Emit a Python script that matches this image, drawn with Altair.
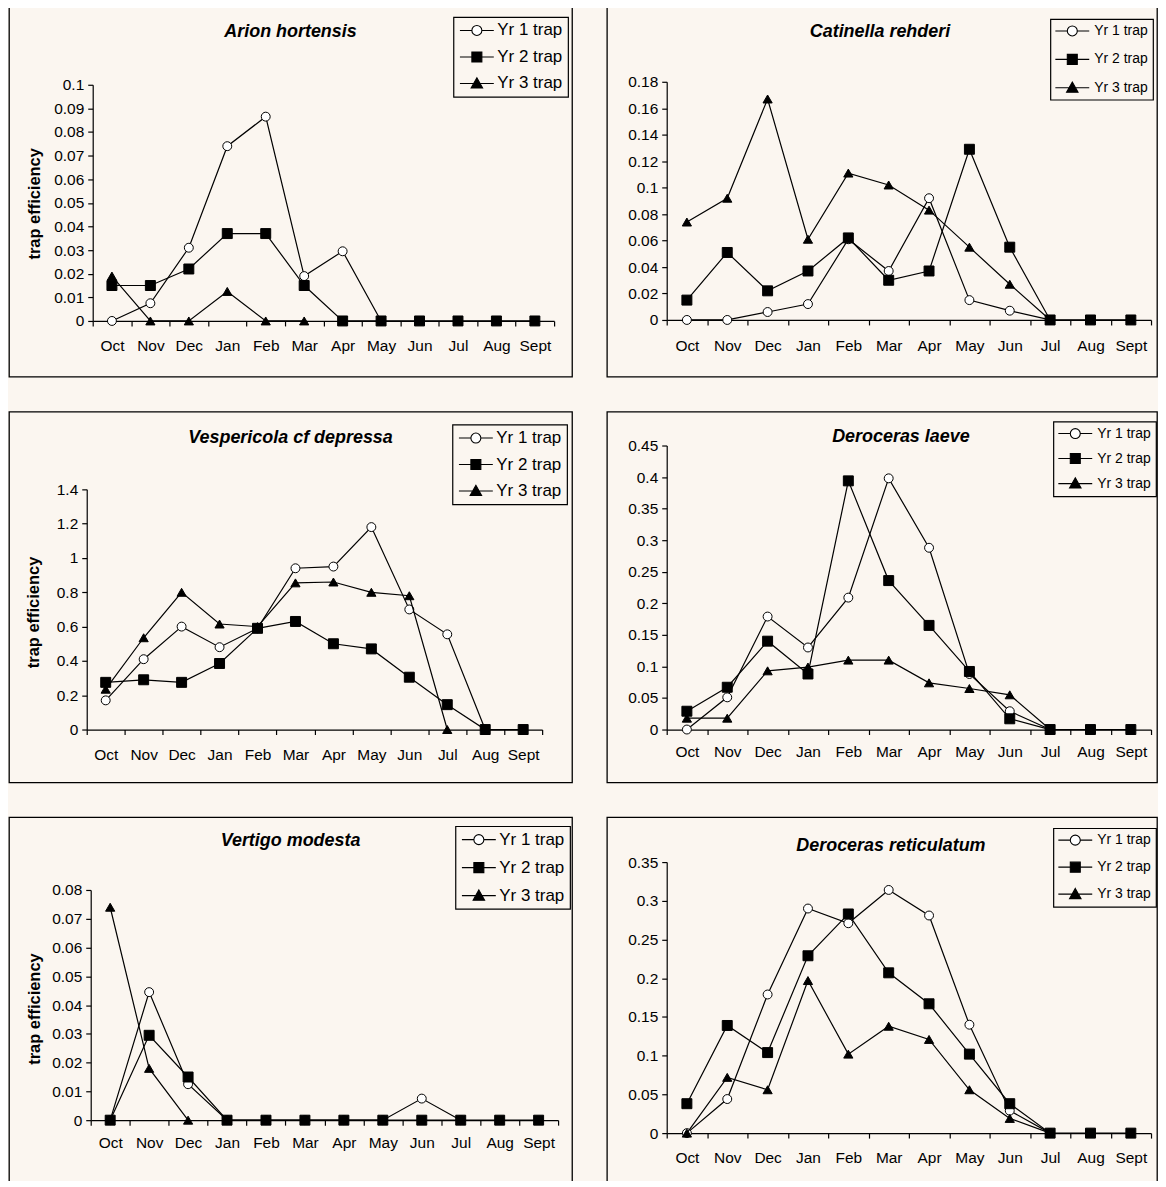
import altair as alt
import pandas as pd

MONTHS = ["Oct", "Nov", "Dec", "Jan", "Feb", "Mar", "Apr", "May", "Jun", "Jul", "Aug", "Sept"]
SERIES = ["Yr 1 trap", "Yr 2 trap", "Yr 3 trap"]

# ---- Arion hortensis ----
ARION_Y1 = [0, 0.0075, 0.031, 0.074, 0.0865, 0.019, 0.0295, 0, None, None, None, None]
ARION_Y2 = [0.015, 0.015, 0.022, 0.037, 0.037, 0.015, 0, 0, 0, 0, 0, 0]
ARION_Y3 = [0.019, 0, 0, 0.0125, 0, 0, None, None, None, None, None, None]
ARION_TICKS = [0, 0.01, 0.02, 0.03, 0.04, 0.05, 0.06, 0.07, 0.08, 0.09, 0.1]

# ---- Catinella rehderi ----
CATIN_Y1 = [0, 0, 0.006, 0.012, 0.061, 0.037, 0.092, 0.015, 0.007, 0, None, None]
CATIN_Y2 = [0.015, 0.051, 0.022, 0.037, 0.062, 0.030, 0.037, 0.129, 0.055, 0, 0, 0]
CATIN_Y3 = [0.074, 0.092, 0.167, 0.061, 0.111, 0.102, 0.083, 0.055, 0.027, 0, None, None]
CATIN_TICKS = [0, 0.02, 0.04, 0.06, 0.08, 0.1, 0.12, 0.14, 0.16, 0.18]

# ---- Vespericola cf depressa ----
VESP_Y1 = [0.17, 0.41, 0.60, 0.48, 0.59, 0.94, 0.95, 1.18, 0.70, 0.555, 0, None]
VESP_Y2 = [0.275, 0.29, 0.275, 0.385, 0.59, 0.63, 0.50, 0.47, 0.305, 0.145, 0, 0]
VESP_Y3 = [0.235, 0.535, 0.80, 0.615, 0.60, 0.855, 0.86, 0.80, 0.78, 0, None, None]
VESP_TICKS = [0, 0.2, 0.4, 0.6, 0.8, 1, 1.2, 1.4]

# ---- Deroceras laeve ----
LAEVE_Y1 = [0, 0.051, 0.179, 0.130, 0.209, 0.398, 0.288, 0.088, 0.029, 0, None, None]
LAEVE_Y2 = [0.029, 0.067, 0.140, 0.088, 0.394, 0.236, 0.165, 0.092, 0.017, 0, 0, 0]
LAEVE_Y3 = [0.018, 0.018, 0.093, 0.099, 0.110, 0.110, 0.074, 0.065, 0.055, 0, None, None]
LAEVE_TICKS = [0, 0.05, 0.1, 0.15, 0.2, 0.25, 0.3, 0.35, 0.4, 0.45]

# ---- Vertigo modesta ----
VERT_Y1 = [0, 0.0445, 0.0125, 0, 0, 0, 0, 0, 0.0075, 0, None, None]
VERT_Y2 = [0, 0.0295, 0.015, 0, 0, 0, 0, 0, 0, 0, 0, 0]
VERT_Y3 = [0.074, 0.018, 0, None, None, None, None, None, None, None, None, None]
VERT_TICKS = [0, 0.01, 0.02, 0.03, 0.04, 0.05, 0.06, 0.07, 0.08]

# ---- Deroceras reticulatum ----
RETIC_Y1 = [0, 0.044, 0.179, 0.290, 0.271, 0.314, 0.281, 0.140, 0.029, 0, None, None]
RETIC_Y2 = [0.038, 0.139, 0.104, 0.229, 0.283, 0.207, 0.167, 0.102, 0.038, 0, 0, 0]
RETIC_Y3 = [0, 0.072, 0.056, 0.197, 0.102, 0.138, 0.121, 0.056, 0.019, 0, None, None]
RETIC_TICKS = [0, 0.05, 0.1, 0.15, 0.2, 0.25, 0.3, 0.35]

FONT = "Liberation Sans"
BG = "#fbf6f0"

LEGEND_PATHS = [
    "M-3.4,0H-1M1,0H3.4M-1,0A1,1,0,1,0,1,0A1,1,0,1,0,-1,0Z",
    "M-3.4,0H3.4M-1,-1H1V1H-1Z",
    "M-3.4,0H3.4M0,-1.15L1.15,0.9H-1.15Z",
]
LEGEND_FILLS = ["white", "black", "black"]
LEGEND_STROKES = ["black", "black", "black"]

MARK_STYLE = {
    "Yr 1 trap": dict(shape="circle", fill="white", size=80),
    "Yr 2 trap": dict(shape="square", fill="black", size=100),
    "Yr 3 trap": dict(shape="triangle-up", fill="black", size=85),
}
DRAW_ORDER = ["Yr 1 trap", "Yr 3 trap", "Yr 2 trap"]


def build_df(y1, y2, y3):
    rows = []
    for s, vals in zip(SERIES, (y1, y2, y3)):
        for m, v in zip(MONTHS, vals):
            if v is not None:
                rows.append({"month": m, "series": s, "value": v})
    return pd.DataFrame(rows)


def panel(name, y1, y2, y3, yticks, L):
    df = build_df(y1, y2, y3)
    W, H = L["w"], L["h"]
    x0, x1 = L["xr"]
    ybot, ytop = L["yr"]

    x_enc = alt.X(
        "month:N", sort=MONTHS,
        scale=alt.Scale(type="band", domain=MONTHS, range=[x0, x1], paddingInner=0, paddingOuter=0),
        axis=alt.Axis(title=None, orient="bottom", offset=ybot - H, tickBand="extent",
                      labelAngle=0, labelFont=FONT, labelFontSize=L["fs"], labelColor="black",
                      labelPadding=L["lp"], labelOverlap=False, domainColor="black", domainWidth=1.2,
                      tickColor="black", tickWidth=1.2, tickSize=5, grid=False),
    )
    yk = dict(orient="left", offset=-x0, values=yticks, format="~g", labelFont=FONT,
              labelFontSize=L["fs"], labelColor="black", labelPadding=4, labelOverlap=False,
              labelFlush=False, domainColor="black", domainWidth=1.2, tickColor="black",
              tickWidth=1.2, tickSize=5, grid=False)
    if L.get("ytitle"):
        yk.update(title="trap efficiency", titleFont=FONT, titleFontSize=16.5, titleFontWeight="bold",
                  titleColor="black", titleX=L["tx"] - x0, titleY=L["ty"], titleAngle=270,
                  titleBaseline="middle", titleAlign="center")
    else:
        yk.update(title=None)
    y_enc = alt.Y("value:Q", scale=alt.Scale(domain=[0, yticks[-1]], range=[ybot, ytop],
                                             nice=False, zero=True), axis=alt.Axis(**yk))

    base = alt.Chart(df)
    layers = []
    for s in DRAW_ORDER:
        sub = base.transform_filter(alt.datum.series == s)
        layers.append(sub.mark_line(color="black", strokeWidth=1.2).encode(x=x_enc, y=y_enc))
        st = MARK_STYLE[s]
        layers.append(sub.mark_point(shape=st["shape"], filled=True, fill=st["fill"], stroke="black",
                                     strokeWidth=1, size=st["size"], opacity=1).encode(x=x_enc, y=y_enc))

    leg = dict(title=None, orient="none", legendX=L["lx"], legendY=L["ly"], direction="vertical",
               symbolSize=100, symbolStrokeColor="black", symbolStrokeWidth=1.1, symbolOpacity=1,
               symbolOffset=10, labelOffset=L["lo"], labelFont=FONT, labelFontSize=L["lfs"],
               labelColor="black", labelLimit=300, rowPadding=L["rp"], padding=5,
               strokeColor="black")
    legend_layer = base.mark_point(opacity=0, filled=False, stroke="black", strokeWidth=1.1).encode(
        x=x_enc, y=y_enc,
        shape=alt.Shape("series:N", scale=alt.Scale(domain=SERIES, range=LEGEND_PATHS), legend=alt.Legend(**leg)),
        fill=alt.Fill("series:N", scale=alt.Scale(domain=SERIES, range=LEGEND_FILLS), legend=alt.Legend(**leg)),
        stroke=alt.Stroke("series:N", scale=alt.Scale(domain=SERIES, range=LEGEND_STROKES), legend=alt.Legend(**leg)),
    )
    layers.append(legend_layer)

    title_layer = alt.Chart(pd.DataFrame({"label": [name]})).mark_text(
        align="center", baseline="middle", font=FONT, fontSize=18, fontWeight="bold",
        fontStyle="italic", color="black").encode(
        text="label:N", x=alt.value(W / 2 + L["dx"]), y=alt.value(L["cy"]))
    layers.append(title_layer)

    return alt.layer(*layers).properties(width=W, height=H)


LAY = {
    "p1": dict(w=565, h=371, xr=(84, 547), yr=(315, 78), cy=25, dx=0, lx=446, ly=10, rp=8.6,
               lo=12, fs=15.5, lfs=17, lp=13, ytitle=True, tx=26, ty=197),
    "p2": dict(w=552, h=371, xr=(60, 546), yr=(314, 75), cy=25, dx=-2, lx=445, ly=12, rp=12.5,
               lo=15, fs=15.5, lfs=14, lp=14),
    "p3": dict(w=565, h=372, xr=(78, 535), yr=(319, 78), cy=26, dx=0, lx=445, ly=13, rp=8.6,
               lo=12, fs=15.5, lfs=17, lp=13, ytitle=True, tx=25, ty=201),
    "p4": dict(w=552, h=372, xr=(60, 546), yr=(319, 34), cy=25, dx=19, lx=448, ly=10, rp=9.1,
               lo=15, fs=15.5, lfs=14, lp=10),
    "p5": dict(w=565, h=372, xr=(82, 551), yr=(304, 73), cy=24, dx=0, lx=448, ly=9, rp=10.1,
               lo=12, fs=15.5, lfs=17, lp=10, ytitle=True, tx=26, ty=192),
    "p6": dict(w=552, h=372, xr=(60, 546), yr=(317, 45), cy=29, dx=9, lx=448, ly=11, rp=11.1,
               lo=15, fs=15.5, lfs=14, lp=12),
}

p1 = panel("Arion hortensis", ARION_Y1, ARION_Y2, ARION_Y3, ARION_TICKS, LAY["p1"])
p2 = panel("Catinella rehderi", CATIN_Y1, CATIN_Y2, CATIN_Y3, CATIN_TICKS, LAY["p2"])
p3 = panel("Vespericola cf depressa", VESP_Y1, VESP_Y2, VESP_Y3, VESP_TICKS, LAY["p3"])
p4 = panel("Deroceras laeve", LAEVE_Y1, LAEVE_Y2, LAEVE_Y3, LAEVE_TICKS, LAY["p4"])
p5 = panel("Vertigo  modesta", VERT_Y1, VERT_Y2, VERT_Y3, VERT_TICKS, LAY["p5"])
p6 = panel("Deroceras reticulatum", RETIC_Y1, RETIC_Y2, RETIC_Y3, RETIC_TICKS, LAY["p6"])


def row(a, b):
    return alt.hconcat(a, b, spacing=33).resolve_scale(
        shape="independent", fill="independent", stroke="independent").resolve_legend(
        shape="independent", fill="independent", stroke="independent")


chart = alt.vconcat(row(p1, p2), row(p3, p4), row(p5, p6), spacing=33).resolve_scale(
    shape="independent", fill="independent", stroke="independent").resolve_legend(
    shape="independent", fill="independent", stroke="independent").properties(
    padding={"top": -4, "left": 0, "right": 0, "bottom": -10}, background=BG).configure_view(
    stroke="black", strokeWidth=1.3).configure_legend(strokeWidth=1.2)

chart.save("out.html", embed_options={"renderer": "svg", "actions": False})
